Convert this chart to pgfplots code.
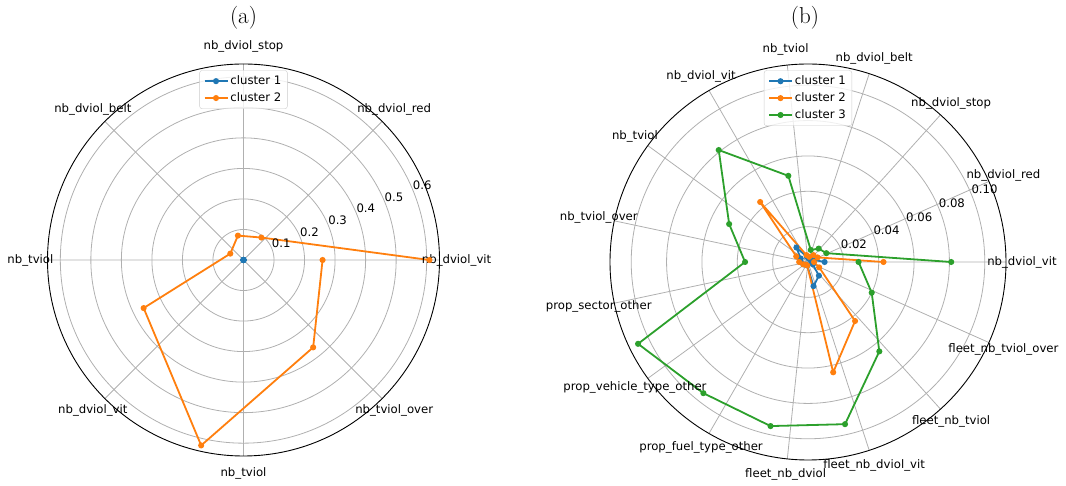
\documentclass[border=0pt]{standalone}
\usepackage{fontspec}
\usepackage{pgfplots}
\pgfplotsset{compat=1.18}
\usepgfplotslibrary{polar}
\newfontfamily\dejavu{DejaVu Sans}
\definecolor{c1}{HTML}{1F77B4}
\definecolor{c2}{HTML}{FF7F0E}
\definecolor{c3}{HTML}{2CA02C}
\definecolor{gridc}{HTML}{B0B0B0}
\newcommand{\lf}{\dejavu\fontsize{11.7}{14}\selectfont}
\pgfplotsset{radar/.style={
  scale only axis, clip=false,
  xmin=0, xmax=360, ymin=0,
  xticklabels={}, yticklabels={},
  major tick length=0pt,
  grid=major,
  major grid style={gridc, line width=0.8pt},
  axis line style={black, line width=0.9pt},
  y axis line style={draw=none},
  every axis plot/.append style={line width=1.8pt, mark=*, mark size=2.1pt, mark options={solid, line width=0.3pt}},
  legend style={font=\lf, draw=black!20, rounded corners=2.5pt, fill=white, fill opacity=0.8, text opacity=1, draw opacity=1,
    inner xsep=4pt, inner ysep=3.5pt, row sep=2.5pt, at={(0.5,0.984)}, anchor=north},
  legend cell align=left,
  legend image code/.code={\draw[mark repeat=2,mark phase=2] plot coordinates {(0pt,0pt)(11.5pt,0pt)(23pt,0pt)};},
}}
\begin{document}
\begin{tikzpicture}
\path[use as bounding box] (0,0) rectangle (1066pt,486pt);
% ---------------- (a)
\begin{polaraxis}[radar, at={(243.5pt,226pt)}, anchor=center, width=392pt, height=392pt,
  ymax=0.642, xtick={0,45,...,315}, ytick={0.1,0.2,0.3,0.4,0.5,0.6}]
\addplot[c1, mark options={fill=c1, draw=c1}] coordinates {(0,0) (51.43,0) (102.86,0) (154.29,0) (205.71,0) (257.14,0) (308.57,0) (360,0)};
\addlegendentry{cluster 1}
\addplot[c2, mark options={fill=c2, draw=c2}] coordinates {(0,0.609) (51.43,0.094) (102.86,0.082) (154.29,0.048) (205.71,0.363) (257.14,0.623) (308.57,0.366) (360,0.259)};
\addlegendentry{cluster 2}
\node[font=\lf] at (axis cs:0,0.698) {nb\_dviol\_vit};
\node[font=\lf] at (axis cs:45,0.698) {nb\_dviol\_red};
\node[font=\lf] at (axis cs:90,0.698) {nb\_dviol\_stop};
\node[font=\lf] at (axis cs:135,0.698) {nb\_dviol\_belt};
\node[font=\lf] at (axis cs:180,0.698) {nb\_tviol};
\node[font=\lf] at (axis cs:225,0.698) {nb\_dviol\_vit};
\node[font=\lf] at (axis cs:270,0.698) {nb\_tviol};
\node[font=\lf] at (axis cs:315,0.698) {nb\_tviol\_over};
\node[font=\lf, anchor=south west, inner sep=0pt] at (axis cs:22.5,0.1) {0.1};
\node[font=\lf, anchor=south west, inner sep=0pt] at (axis cs:22.5,0.2) {0.2};
\node[font=\lf, anchor=south west, inner sep=0pt] at (axis cs:22.5,0.3) {0.3};
\node[font=\lf, anchor=south west, inner sep=0pt] at (axis cs:22.5,0.4) {0.4};
\node[font=\lf, anchor=south west, inner sep=0pt] at (axis cs:22.5,0.5) {0.5};
\node[font=\lf, anchor=south west, inner sep=0pt] at (axis cs:22.5,0.6) {0.6};
\end{polaraxis}
% ---------------- (b)
\begin{polaraxis}[radar, at={(808pt,224pt)}, anchor=center, width=396pt, height=396pt,
  ymax=0.112, xtick={0,24,...,336}, ytick={0.02,0.04,0.06,0.08,0.10}]
\addplot[c1, mark options={fill=c1, draw=c1}] coordinates {(0,0.0094) (25.71,0.003) (51.43,0.002) (77.14,0.002) (102.86,0.003) (128.57,0.0105) (154.29,0.0046) (180,0.004) (205.71,0.003) (231.43,0.002) (257.14,0.002) (282.86,0.014) (308.57,0.0099) (334.29,0.003) (360,0.002)};
\addlegendentry{cluster 1}
\addplot[c2, mark options={fill=c2, draw=c2}] coordinates {(0,0.0427) (25.71,0.006) (51.43,0.005) (77.14,0.003) (102.86,0.004) (128.57,0.0434) (154.29,0.0074) (180,0.005) (205.71,0.003) (231.43,0.002) (257.14,0.002) (282.86,0.064) (308.57,0.0427) (334.29,0.007) (360,0.0034)};
\addlegendentry{cluster 2}
\addplot[c3, mark options={fill=c3, draw=c3}] coordinates {(0,0.081) (25.71,0.0115) (51.43,0.0097) (77.14,0.007) (102.86,0.050) (128.57,0.081) (154.29,0.0495) (180,0.0356) (205.71,0.1067) (231.43,0.0949) (257.14,0.0952) (282.86,0.0941) (308.57,0.0647) (334.29,0.040) (360,0.0286)};
\addlegendentry{cluster 3}
\node[font=\lf] at (axis cs:0,0.121) {nb\_dviol\_vit};
\node[font=\lf] at (axis cs:24,0.121) {nb\_dviol\_red};
\node[font=\lf] at (axis cs:48,0.121) {nb\_dviol\_stop};
\node[font=\lf] at (axis cs:72,0.121) {nb\_dviol\_belt};
\node[font=\lf] at (axis cs:96,0.121) {nb\_tviol};
\node[font=\lf] at (axis cs:120,0.121) {nb\_dviol\_vit};
\node[font=\lf] at (axis cs:144,0.121) {nb\_tviol};
\node[font=\lf] at (axis cs:168,0.121) {nb\_tviol\_over};
\node[font=\lf] at (axis cs:192,0.121) {prop\_sector\_other};
\node[font=\lf] at (axis cs:216,0.121) {prop\_vehicle\_type\_other};
\node[font=\lf] at (axis cs:240,0.121) {prop\_fuel\_type\_other};
\node[font=\lf] at (axis cs:264,0.121) {fleet\_nb\_dviol};
\node[font=\lf] at (axis cs:288,0.121) {fleet\_nb\_dviol\_vit};
\node[font=\lf] at (axis cs:312,0.121) {fleet\_nb\_tviol};
\node[font=\lf] at (axis cs:336,0.121) {fleet\_nb\_tviol\_over};
\node[font=\lf, anchor=south west, inner sep=0pt] at (axis cs:22.5,0.02) {0.02};
\node[font=\lf, anchor=south west, inner sep=0pt] at (axis cs:22.5,0.04) {0.04};
\node[font=\lf, anchor=south west, inner sep=0pt] at (axis cs:22.5,0.06) {0.06};
\node[font=\lf, anchor=south west, inner sep=0pt] at (axis cs:22.5,0.08) {0.08};
\node[font=\lf, anchor=south west, inner sep=0pt] at (axis cs:22.5,0.10) {0.10};
\end{polaraxis}
\node[font=\fontsize{23}{27}\selectfont] at (243.5pt,468pt) {(a)};
\node[font=\fontsize{23}{27}\selectfont] at (805pt,468pt) {(b)};
\end{tikzpicture}
\end{document}
